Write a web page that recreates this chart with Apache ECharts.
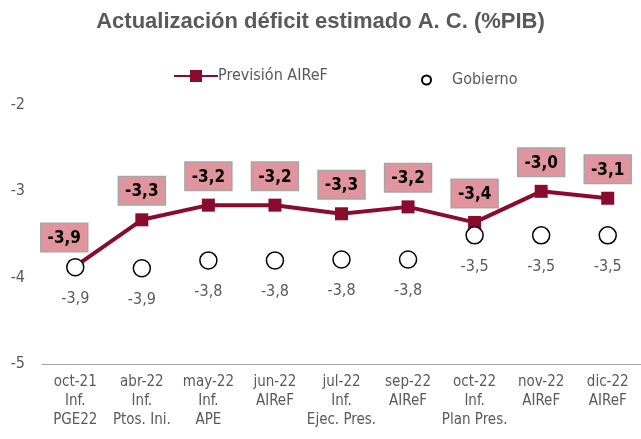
<!DOCTYPE html>
<html>
<head>
<meta charset="utf-8">
<script src="https://cdn.jsdelivr.net/npm/echarts@6/dist/echarts.min.js"></script>
<style>
  html, body { margin: 0; padding: 0; background: #fff; }
  #main { width: 641px; height: 439px; }
</style>
</head>
<body>
<div id="main"></div>
<script>
// categorías del eje x (fecha + informe)
const categories = [
  'oct-21\nInf.\nPGE22', 'abr-22\nInf.\nPtos. Ini.', 'may-22\nInf.\nAPE', 'jun-22\nAIReF',
  'jul-22\nInf.\nEjec. Pres.', 'sep-22\nAIReF', 'oct-22\nInf.\nPlan Pres.', 'nov-22\nAIReF', 'dic-22\nAIReF'
];
const airef = [-3.87, -3.33, -3.16, -3.16, -3.26, -3.18, -3.36, -3.0, -3.08];
const gobierno = [-3.88, -3.89, -3.80, -3.80, -3.79, -3.79, -3.51, -3.51, -3.51];
const yTicks = [-5, -4, -3, -2];

const grey = '#595959';
const maroon = '#8a0a30';
const fmt = v => v.toFixed(1).replace('.', ',');
const font = "'Liberation Sans Narrow', 'DejaVu Sans Condensed', 'Liberation Sans', sans-serif";

const chart = echarts.init(document.getElementById('main'));
chart.setOption({
  animation: false,
  textStyle: {fontFamily: font},
  title: {
    text: 'Actualización déficit estimado A. C. (%PIB)',
    left: 'center', top: 6,
    textStyle: {fontFamily: "'Liberation Sans', sans-serif", fontSize: 22, fontWeight: 'bold', color: grey}
  },
  legend: [{
    left: 168, top: 63,
    itemWidth: 44, itemHeight: 15,
    textStyle: {fontSize: 16, color: grey, padding: [0, 0, 0, -5]},
    data: ['Previsión AIReF']
  }, {
    left: 416, top: 67,
    itemWidth: 9, itemHeight: 9,
    textStyle: {fontSize: 16, color: grey, padding: [0, 0, 0, 16]},
    data: ['Gobierno']
  }],
  grid: {left: 42, top: 105, width: 608, height: 259, containLabel: false},
  xAxis: {
    type: 'category',
    data: categories,
    boundaryGap: true,
    axisLine: {lineStyle: {color: '#a6a6a6', width: 1}},
    axisTick: {show: false},
    axisLabel: {color: grey, fontSize: 15, lineHeight: 19, margin: 9, interval: 0}
  },
  yAxis: {
    type: 'value',
    min: yTicks[0], max: yTicks[yTicks.length - 1], interval: 1,
    splitLine: {show: false},
    axisLine: {show: false},
    axisTick: {show: false},
    axisLabel: {color: grey, fontSize: 16, margin: 17}
  },
  series: [{
    name: 'Previsión AIReF',
    type: 'line',
    data: airef.map((v, i) => i === 0 ? {value: v, label: {offset: [-11, 0]}} : v),
    color: maroon,
    lineStyle: {width: 4, color: maroon},
    symbol: 'rect', symbolSize: 13,
    itemStyle: {color: maroon},
    z: 2,
    label: {
      show: true, position: 'top', distance: 9,
      formatter: p => fmt(p.value),
      fontSize: 17, fontWeight: 'bold', color: '#000',
      backgroundColor: '#e0959e', borderColor: '#a6a6a6', borderWidth: 1.5,
      padding: [6, 6, 4, 6]
    }
  }, {
    name: 'Gobierno',
    type: 'scatter',
    data: gobierno,
    symbol: 'circle', symbolSize: 17,
    itemStyle: {color: '#fff', borderColor: '#000', borderWidth: 1.5, opacity: 1},
    z: 3,
    label: {
      show: true, position: 'bottom', distance: 14,
      formatter: p => fmt(p.value),
      fontSize: 16, color: grey
    }
  }]
});
</script>
</body>
</html>
